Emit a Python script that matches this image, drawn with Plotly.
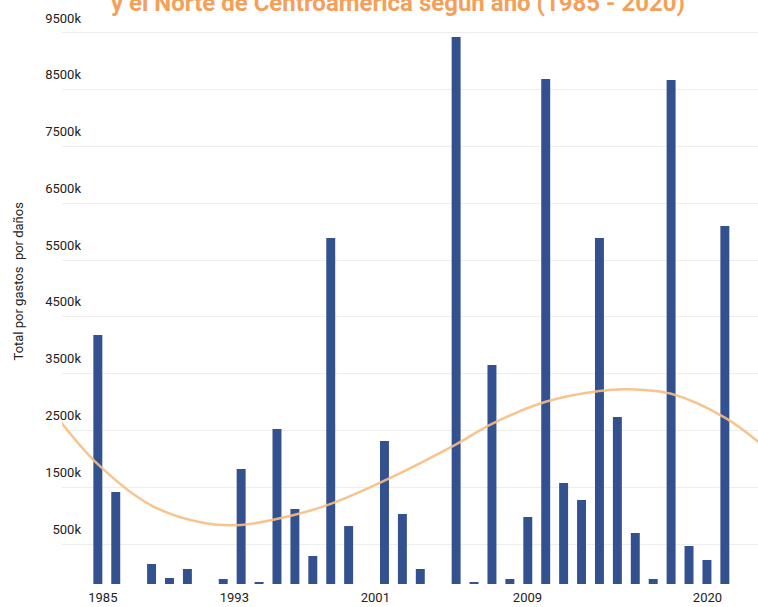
import plotly.graph_objects as go

# ---- data ----
years = list(range(1985, 2021))
damages = [4385, 1620, 0, 352, 106, 264, 0, 88, 2025, 35,
           2730, 1321, 493, 6094, 1021, 0, 2518, 1233, 264, 0,
           9634, 18, 3857, 88, 1180, 8894, 1779, 1479, 6094, 2941,
           898, 88, 8876, 669, 423, 6305]  # thousands
damages = [v * 1000 for v in damages]

trend_years = [1982.5, 1985, 1988, 1991, 1993, 1996, 1998, 2001, 2005,
               2007, 2010, 2013, 2014.5, 2017, 2020, 2022]
trend_vals = [3030, 2110, 1380, 1070, 1040, 1220, 1410, 1820, 2460,
              2820, 3210, 3400, 3430, 3350, 2930, 2470]  # thousands
trend_vals = [v * 1000 for v in trend_vals]

y_tick_vals = [704500 + 1000000 * k for k in range(10)]
y_tick_text = ["500k", "1500k", "2500k", "3500k", "4500k",
               "5500k", "6500k", "7500k", "8500k", "9500k"]

x_tick_vals = [1985.28, 1992.62, 2000.49, 2008.98, 2019.03]
x_tick_text = ["1985", "1993", "2001", "2009", "2020"]

title_text = "y el Norte de Centroamérica según año (1985 - 2020)"
y_title = "Total por gastos \u00a0por daños"

fig = go.Figure()
fig.add_trace(go.Bar(x=years, y=damages, width=0.5,
                     marker=dict(color="#33508F", line=dict(width=0)),
                     name="Total"))
fig.add_trace(go.Scatter(x=trend_years, y=trend_vals, mode="lines",
                         line=dict(color="rgba(246,190,130,0.9)", width=2.5,
                                   shape="spline", smoothing=1.0),
                         name="Tendencia", hoverinfo="skip"))

fig.update_layout(
    width=758, height=607,
    margin=dict(l=62, r=0, t=24, b=23),
    plot_bgcolor="white", paper_bgcolor="white",
    showlegend=False,
    font=dict(family="Roboto", size=13, color="#222222"),
    xaxis=dict(range=[1983.0, 2021.85], showgrid=False, zeroline=False,
               showline=False, tickmode="array", tickvals=x_tick_vals,
               ticktext=x_tick_text, ticks="", ticklabelstandoff=4,
               tickfont=dict(size=13, color="#222222")),
    yaxis=dict(range=[0, 9862600], showgrid=True, gridcolor="#eeeeee",
               gridwidth=1, zeroline=False, showline=False,
               tickmode="array", tickvals=y_tick_vals, ticktext=y_tick_text,
               ticks="", ticklabelshift=-15, ticklabelstandoff=-20,
               tickfont=dict(size=13, color="#222222")),
    bargap=0.5,
)

fig.add_annotation(text=title_text, xref="paper", yref="paper",
                   x=(397.5 - 62) / 696, y=1 + (24 - 3) / 560,
                   xanchor="center", yanchor="middle",
                   showarrow=False,
                   font=dict(family="Roboto", size=24, color="#F5A05A",
                             weight="bold"))
fig.add_annotation(text=y_title, xref="paper", yref="paper",
                   x=(18 - 62) / 696, y=(584 - 280.5) / 560,
                   xanchor="center", yanchor="middle", textangle=-90,
                   showarrow=False,
                   font=dict(family="Roboto", size=13, color="#222222"))

fig.write_html("out.html",
               config={"displayModeBar": False},
               post_script="document.body.style.margin='0';"
                           "document.body.style.overflow='hidden';")
